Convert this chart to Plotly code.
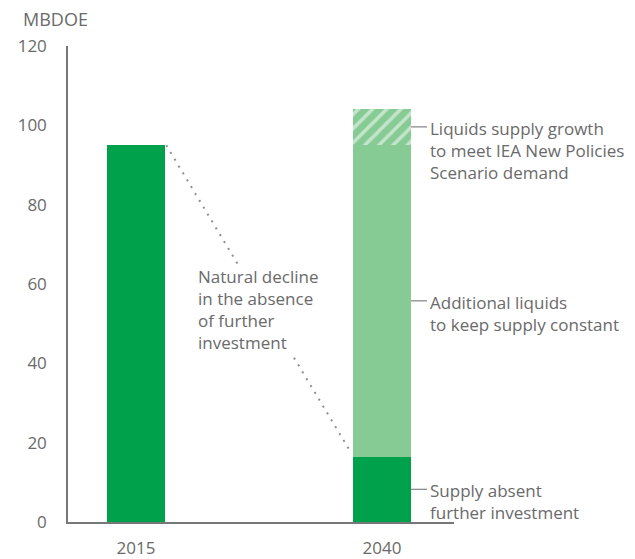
import plotly.graph_objects as go

# values in MBDOE
years = ["2015", "2040"]
supply_2015 = 95
supply_absent = 16.5
additional_liquids = 78.5
supply_growth = 9.2

labels = [
    "Liquids supply growth<br>to meet IEA New Policies<br>Scenario demand",
    "Additional liquids<br>to keep supply constant",
    "Supply absent<br>further investment",
]
decline_text = "Natural decline<br>in the absence<br>of further<br>investment"

DARK = "#00a14b"
LIGHT = "#86ca94"
GREY = "#6a6a6a"
FONT = "Open Sans"
SIZE = 17
BAR_W = 0.236

xpos = [0, 1]

fig = go.Figure()
fig.add_trace(go.Bar(x=[xpos[0]], y=[supply_2015], width=BAR_W,
                     marker=dict(color=DARK, line=dict(width=0))))
fig.add_trace(go.Bar(x=[xpos[1]], y=[supply_absent], width=BAR_W,
                     marker=dict(color=DARK, line=dict(width=0))))
fig.add_trace(go.Bar(x=[xpos[1]], y=[additional_liquids], width=BAR_W,
                     marker=dict(color=LIGHT, line=dict(width=0))))
fig.add_trace(go.Bar(x=[xpos[1]], y=[supply_growth], width=BAR_W,
                     marker=dict(color=LIGHT, line=dict(width=0),
                                 pattern=dict(shape="/", fgcolor="white",
                                              bgcolor=LIGHT, size=10,
                                              solidity=0.35))))

# dotted decline line from top of 2015 bar to top of the base 2040 segment
fig.add_trace(go.Scatter(
    x=[xpos[0] + BAR_W / 2 + 0.005, xpos[1] - BAR_W / 2 - 0.01],
    y=[supply_2015, supply_absent + 1.2],
    mode="lines", line=dict(color="#8f8f8f", width=2, dash="2px,6px"),
    hoverinfo="skip"))

fig.add_annotation(x=0.25, y=65, xref="x", yref="y", text=decline_text,
                   showarrow=False, xanchor="left", yanchor="top", align="left",
                   bgcolor="white", borderpad=0,
                   font=dict(family=FONT, size=SIZE, color=GREY))

# right-hand labels with short leader lines
mids = [supply_absent + additional_liquids + supply_growth / 2,
        supply_absent + additional_liquids / 2,
        supply_absent / 2]
right_edge = xpos[1] + BAR_W / 2
for lab, yv in zip(labels, mids):
    fig.add_shape(type="line", xref="x", yref="y",
                  x0=right_edge, x1=right_edge + 0.065, y0=yv, y1=yv,
                  line=dict(color=GREY, width=1))
    fig.add_annotation(x=right_edge + 0.068, y=yv, xref="x", yref="y",
                       text=lab, showarrow=False, xanchor="left",
                       yanchor="top", yshift=12, align="left",
                       font=dict(family=FONT, size=SIZE, color=GREY))

fig.add_annotation(x=-0.12, y=1.0557, xref="paper", yref="paper",
                   text="MBDOE", showarrow=False, xanchor="left",
                   yanchor="middle", borderpad=0,
                   font=dict(family=FONT, size=18, color=GREY))

# page body adds an 8px offset, so the figure is 8px smaller than the window
fig.update_layout(
    width=627, height=551,
    margin=dict(l=60, r=181, t=38, b=37),
    barmode="stack", showlegend=False,
    plot_bgcolor="white", paper_bgcolor="white",
    font=dict(family=FONT, size=SIZE, color=GREY),
    xaxis=dict(range=[-0.2764, 1.2927], tickvals=xpos, ticktext=years,
               showgrid=False, zeroline=False, showline=True,
               linecolor="#777777", linewidth=1.5, ticks="",
               ticklabelstandoff=10, automargin=False),
    yaxis=dict(range=[0, 120], tickvals=[0, 20, 40, 60, 80, 100, 120],
               showgrid=False, zeroline=False, showline=True,
               linecolor="#777777", linewidth=1.5, ticks="",
               ticklabelstandoff=16, automargin=False),
)

fig.write_html("out.html")
